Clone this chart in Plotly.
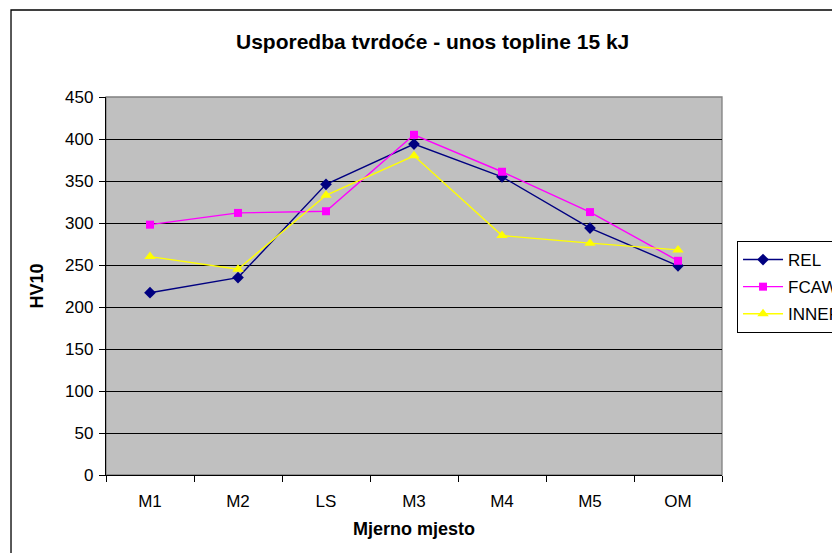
import plotly.graph_objects as go

# Measuring positions along the welded joint
positions = ["M1", "M2", "LS", "M3", "M4", "M5", "OM"]

# Vickers hardness HV10 for each welding process (heat input 15 kJ)
rel = [217, 235, 346, 394, 355, 294, 249]
fcaw = [298, 312, 314, 405, 361, 313, 255]
inner = [260, 245, 333, 380, 285, 276, 268]

y_ticks = [0, 50, 100, 150, 200, 250, 300, 350, 400, 450]

FONT = "Liberation Sans, Arial, sans-serif"

fig = go.Figure()

series = [
    ("REL", rel, "#000080", "diamond", 9),
    ("FCAW", fcaw, "#FF00FF", "square", 8),
    ("INNER", inner, "#FFFF00", "triangle-up", 10),
]
for name, vals, color, symbol, size in series:
    fig.add_trace(go.Scatter(
        x=positions, y=vals, name=name, mode="lines+markers",
        legendgroup=name,
        line=dict(color=color, width=1.4),
        marker=dict(symbol=symbol, size=size, color=color,
                    line=dict(width=0)),
    ))

# Chart area frame (continues past the right and bottom edges)
fig.add_shape(type="rect", xref="paper", yref="paper",
              x0=-0.1542, y0=-0.3, x1=1.3, y1=1.2302,
              line=dict(color="#000000", width=1.3), layer="below")
# Plot area outline
fig.add_shape(type="rect", xref="paper", yref="paper",
              x0=0, y0=0, x1=1, y1=1,
              line=dict(color="#808080", width=1.3), layer="below")

fig.update_layout(
    width=832, height=553,
    margin=dict(l=106, r=110, t=97, b=78, autoexpand=False),
    paper_bgcolor="white",
    plot_bgcolor="#C0C0C0",
    font=dict(family=FONT, size=17, color="#000000"),
    title=dict(text="<b>Usporedba tvrdoće - unos topline 15 kJ</b>",
               x=0.52, xanchor="center", xref="container",
               y=0.925, yanchor="middle", yref="container",
               font=dict(family=FONT, size=21, color="#000000")),
    showlegend=True,
    legend=dict(x=1.0244, xanchor="left", y=0.619, yanchor="top",
                bordercolor="#000000", borderwidth=1, bgcolor="white",
                font=dict(family=FONT, size=17),
                itemwidth=40,
                tracegroupgap=2, traceorder="grouped"),
    xaxis=dict(
        type="category", categoryorder="array", categoryarray=positions,
        range=[-0.5, len(positions) - 0.5],
        showgrid=False, zeroline=False,
        showline=True, linecolor="#000000", linewidth=1.3,
        ticks="outside", tickson="boundaries", ticklen=6,
        tickcolor="#000000", tickwidth=1,
        ticklabelstandoff=10,
        tickfont=dict(family=FONT, size=17),
        title=dict(text="<b>Mjerno mjesto</b>", standoff=12,
                   font=dict(family=FONT, size=18)),
    ),
    yaxis=dict(
        range=[0, 450], tickvals=y_ticks,
        showgrid=True, gridcolor="#000000", gridwidth=1,
        zeroline=False,
        showline=True, linecolor="#000000", linewidth=1.3,
        ticks="outside", ticklen=6, tickcolor="#000000", tickwidth=1,
        ticklabelstandoff=2,
        tickfont=dict(family=FONT, size=17),
        title=dict(text="<b>HV10</b>", standoff=16,
                   font=dict(family=FONT, size=18)),
    ),
)

fig.write_html("out.html")
